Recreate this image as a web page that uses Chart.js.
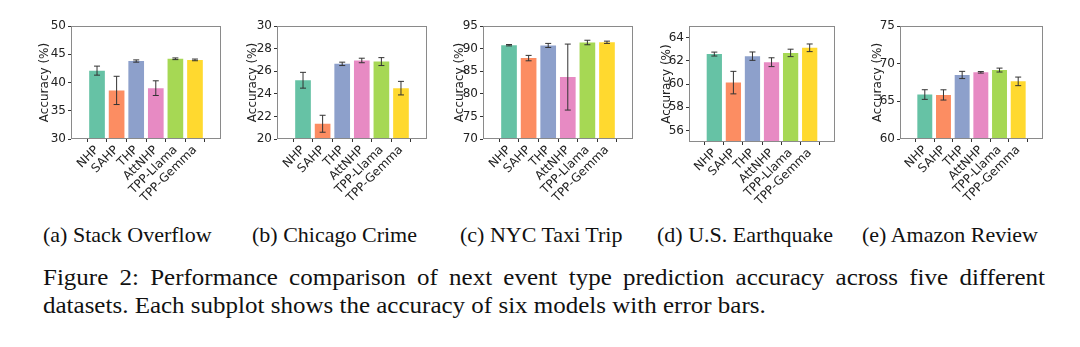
<!DOCTYPE html>
<html>
<head>
<meta charset="utf-8">
<script src="https://cdn.jsdelivr.net/npm/chart.js@4.4.1/dist/chart.umd.min.js"></script>
<style>
    html, body { margin: 0; padding: 0; background: #fff; }
    #page { position: relative; width: 1080px; height: 347px; overflow: hidden; background: #fff; }
    .panel { position: absolute; }
    .cap { position: absolute; font-family: 'Liberation Serif', 'Times New Roman', serif; font-size: 22px; line-height: 22px; color: #111; white-space: nowrap; }
    .fig { position: absolute; left: 43px; width: 1002px; font-family: 'Liberation Serif', 'Times New Roman', serif; font-size: 25px; line-height: 25px; color: #111; white-space: nowrap; transform: scaleY(0.92); transform-origin: 0 0; }
    .justify { text-align: justify; text-align-last: justify; }
</style>
</head>
<body>
<div id="page"></div>
<script>
// Models shown on every subplot
const models = ['NHP', 'SAHP', 'THP', 'AttNHP', 'TPP-Llama', 'TPP-Gemma'];

// Accuracy (%) and error bar half-heights
const stackOverflowAcc = [42.1, 38.6, 43.8, 39.0, 44.2, 44.0];
const stackOverflowErr = [0.8, 2.5, 0.2, 1.3, 0.15, 0.15];
const chicagoAcc = [25.2, 21.35, 26.65, 26.95, 26.85, 24.5];
const chicagoErr = [0.7, 0.75, 0.15, 0.2, 0.35, 0.6];
const taxiAcc = [90.75, 87.9, 90.7, 83.7, 91.35, 91.4];
const taxiErr = [0.15, 0.6, 0.45, 7.3, 0.5, 0.25];
const quakeAcc = [62.58, 60.12, 62.4, 61.88, 62.68, 63.12];
const quakeErr = [0.17, 0.97, 0.36, 0.38, 0.32, 0.33];
const amazonAcc = [65.9, 65.85, 68.5, 68.85, 69.15, 67.65];
const amazonErr = [0.64, 0.68, 0.48, 0.1, 0.26, 0.57];

// Y tick labels per subplot
const stackOverflowTicks = [30, 35, 40, 45, 50];
const chicagoTicks = [20, 22, 24, 26, 28, 30];
const taxiTicks = [70, 75, 80, 85, 90, 95];
const quakeTicks = [56, 58, 60, 62, 64];
const amazonTicks = [60, 65, 70, 75];

const captions = ['(a) Stack Overflow', '(b) Chicago Crime', '(c) NYC Taxi Trip', '(d) U.S. Earthquake', '(e) Amazon Review'];

// Set2 palette
const barColors = ['#66c2a5', '#fc8d62', '#8da0cb', '#e78ac3', '#a6d854', '#ffd92f'];

Chart.defaults.font.family = 'DejaVu Sans';
Chart.defaults.font.size = 12;
Chart.defaults.color = '#222';

// Layout of each panel: plot box [left, top, right, bottom], y-axis width, caption x
const panels = [
    { acc: stackOverflowAcc, err: stackOverflowErr, ticks: stackOverflowTicks, min: 30, max: 50, box: [71, 26, 221, 139], yw: 33, capX: 43 },
    { acc: chicagoAcc, err: chicagoErr, ticks: chicagoTicks, min: 20, max: 30, box: [277, 26, 427, 139], yw: 31, capX: 252 },
    { acc: taxiAcc, err: taxiErr, ticks: taxiTicks, min: 70, max: 95, box: [483, 26, 633, 139], yw: 30, capX: 460 },
    { acc: quakeAcc, err: quakeErr, ticks: quakeTicks, min: 55, max: 65, box: [689, 26, 835, 142], yw: 29, capX: 657 },
    { acc: amazonAcc, err: amazonErr, ticks: amazonTicks, min: 60, max: 75, box: [900, 26, 1043, 139], yw: 29, capX: 862 }
];

// Error bars drawn through the chart's scales
const errorBarPlugin = {
    id: 'errorBars',
    afterDatasetsDraw(chart) {
        const ctx = chart.ctx;
        const yScale = chart.scales.y;
        chart.data.datasets.forEach((ds, di) => {
            const meta = chart.getDatasetMeta(di);
            meta.data.forEach((bar, i) => {
                const v = ds.data[i].y;
                const e = ds.errors[i];
                const top = yScale.getPixelForValue(v + e);
                const bot = yScale.getPixelForValue(v - e);
                ctx.save();
                ctx.strokeStyle = '#333';
                ctx.lineWidth = 1;
                ctx.beginPath();
                ctx.moveTo(bar.x, top);
                ctx.lineTo(bar.x, bot);
                ctx.moveTo(bar.x - 3, top);
                ctx.lineTo(bar.x + 3, top);
                ctx.moveTo(bar.x - 3, bot);
                ctx.lineTo(bar.x + 3, bot);
                ctx.stroke();
                ctx.restore();
            });
        });
    }
};

// Grey frame around the plot area (matplotlib spines)
const framePlugin = {
    id: 'frame',
    afterDraw(chart) {
        const a = chart.chartArea;
        const ctx = chart.ctx;
        ctx.save();
        ctx.strokeStyle = '#8a8a8a';
        ctx.lineWidth = 1;
        ctx.strokeRect(a.left + 0.5, a.top + 0.5, a.right - a.left - 1, a.bottom - a.top - 1);
        ctx.restore();
    }
};

const page = document.getElementById('page');

panels.forEach((p, idx) => {
    const [l, t, r, b] = p.box;
    const left = l - p.yw;
    const top = t - 10;
    const width = p.yw + (r - l) + 6;
    const xh = 75;
    const height = (b - t) + 10 + xh;

    const wrap = document.createElement('div');
    wrap.className = 'panel';
    wrap.style.left = left + 'px';
    wrap.style.top = top + 'px';
    const canvas = document.createElement('canvas');
    canvas.width = width;
    canvas.height = height;
    wrap.appendChild(canvas);
    page.appendChild(wrap);

    new Chart(canvas.getContext('2d'), {
        type: 'bar',
        data: {
            datasets: [{
                data: p.acc.map((v, i) => ({ x: i, y: v })),
                errors: p.err,
                backgroundColor: barColors,
                borderWidth: 0,
                categoryPercentage: 0.8,
                barPercentage: 1.0
            }]
        },
        options: {
            responsive: false,
            animation: false,
            layout: { padding: { left: 0, top: 10, right: 6, bottom: 0 } },
            plugins: { legend: { display: false }, tooltip: { enabled: false } },
            scales: {
                x: {
                    type: 'linear',
                    min: -0.69,
                    max: 5.69,
                    afterBuildTicks: (scale) => { scale.ticks = models.map((_, i) => ({ value: i })); },
                    afterFit: (scale) => { scale.height = xh; scale.paddingLeft = 0; scale.paddingRight = 0; },
                    grid: { drawOnChartArea: false, drawTicks: true, tickLength: 3, tickColor: '#333' },
                    border: { display: false },
                    ticks: {
                        autoSkip: false,
                        maxRotation: 45,
                        minRotation: 45,
                        padding: 1,
                        color: '#222',
                        callback: (value) => models[value]
                    }
                },
                y: {
                    min: p.min,
                    max: p.max,
                    afterBuildTicks: (scale) => { scale.ticks = p.ticks.map(v => ({ value: v })); },
                    afterFit: (scale) => { scale.width = p.yw; scale.paddingTop = 0; scale.paddingBottom = 0; },
                    grid: { drawOnChartArea: false, drawTicks: true, tickLength: 3, tickColor: '#333' },
                    border: { display: false },
                    ticks: { padding: 2, color: '#222' },
                    title: { display: true, text: 'Accuracy (%)', color: '#222', padding: 0 }
                }
            }
        },
        plugins: [errorBarPlugin, framePlugin]
    });

    const cap = document.createElement('div');
    cap.className = 'cap';
    cap.style.left = p.capX + 'px';
    cap.style.top = '224px';
    cap.textContent = captions[idx];
    page.appendChild(cap);
});

const line1 = document.createElement('div');
line1.className = 'fig justify';
line1.style.top = '266px';
line1.textContent = 'Figure 2: Performance comparison of next event type prediction accuracy across five different';
page.appendChild(line1);

const line2 = document.createElement('div');
line2.className = 'fig';
line2.style.top = '294px';
line2.textContent = 'datasets. Each subplot shows the accuracy of six models with error bars.';
page.appendChild(line2);
</script>
</body>
</html>
